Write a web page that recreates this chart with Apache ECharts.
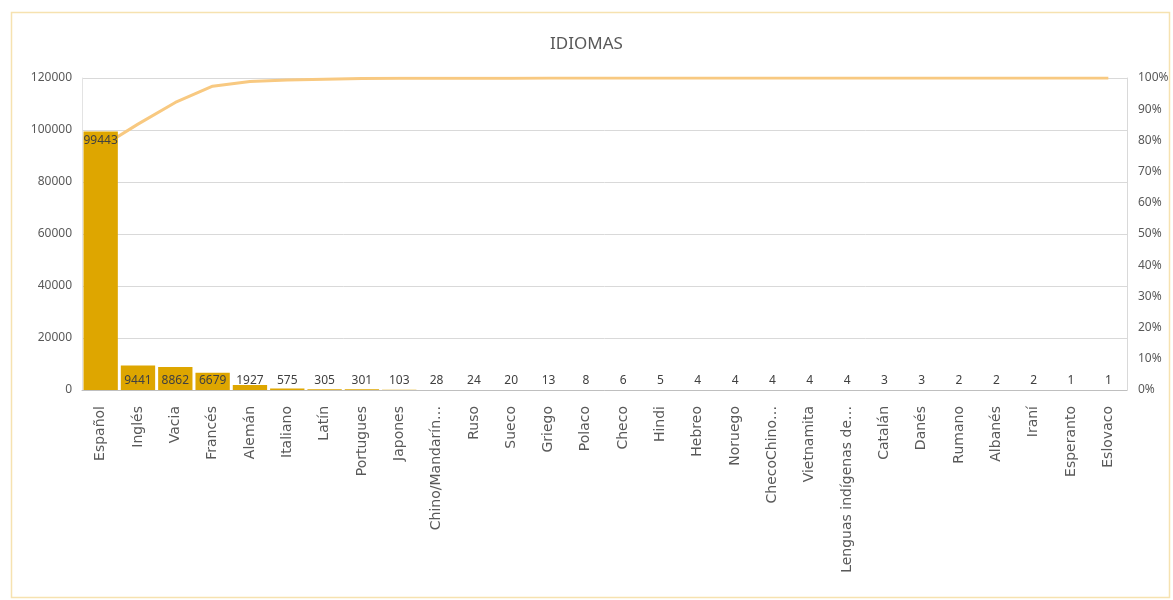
<!DOCTYPE html>
<html>
<head>
<meta charset="utf-8">
<title>IDIOMAS</title>
<script src="https://cdn.jsdelivr.net/npm/echarts@6/dist/echarts.min.js"></script>
<style>
	html, body { margin: 0; padding: 0; background: #ffffff; }
	#main { width: 1173px; height: 600px; }
</style>
</head>
<body>
<div id="main"></div>
<script>
	// idiomas
	var idiomas = ['Español', 'Inglés', 'Vacia', 'Francés', 'Alemán', 'Italiano', 'Latín', 'Portugues', 'Japones',
		'Chino/Mandarín…', 'Ruso', 'Sueco', 'Griego', 'Polaco', 'Checo', 'Hindi', 'Hebreo', 'Noruego',
		'ChecoChino…', 'Vietnamita', 'Lenguas indígenas de…', 'Catalán', 'Danés', 'Rumano', 'Albanés',
		'Iraní', 'Esperanto', 'Eslovaco'];
	var cantidad = [99443, 9441, 8862, 6679, 1927, 575, 305, 301, 103, 28, 24, 20, 13, 8, 6, 5, 4, 4,
		4, 4, 4, 3, 3, 2, 2, 2, 1, 1];
	// % acumulado (linea pareto)
	var acumulado = [77.83, 85.22, 92.15, 97.38, 98.89, 99.34, 99.58, 99.81, 99.89, 99.91, 99.93, 99.95,
		99.96, 99.96, 99.97, 99.97, 99.98, 99.98, 99.98, 99.99, 99.99, 99.99, 99.99, 100, 100, 100, 100, 100];
	var ticksIzq = [0, 20000, 40000, 60000, 80000, 100000, 120000];
	var ticksDer = [0, 10, 20, 30, 40, 50, 60, 70, 80, 90, 100];

	var fuente = "'Noto Sans', sans-serif";

	var barras = cantidad.map(function (v, i) {
		return {
			value: v,
			label: {
				position: i === 0 ? 'insideTop' : 'insideBottom',
				distance: i === 0 ? 3 : 3
			}
		};
	});

	var myChart = echarts.init(document.getElementById('main'));
	var option = {
		backgroundColor: '#ffffff',
		animation: false,
		graphic: [{
			type: 'rect',
			shape: { x: 11.5, y: 12.5, width: 1158, height: 585 },
			style: { fill: 'none', stroke: '#F6E2B0', lineWidth: 1.5 },
			silent: true
		}],
		title: {
			text: 'IDIOMAS',
			left: 'center',
			top: 31,
			textStyle: { fontFamily: fuente, fontSize: 17, fontWeight: 'normal', color: '#595959' }
		},
		grid: { left: 82, right: 46, top: 78, bottom: 210 },
		xAxis: {
			type: 'category',
			data: idiomas,
			axisLine: { lineStyle: { color: '#BFBFBF' } },
			axisTick: { show: false },
			axisLabel: {
				rotate: 90,
				interval: 0,
				margin: 16,
				fontFamily: 'DejaVu Sans',
				fontSize: 14,
				color: '#595959'
			}
		},
		yAxis: [{
			type: 'value',
			min: ticksIzq[0],
			max: ticksIzq[ticksIzq.length - 1],
			interval: 20000,
			axisLine: { show: true, lineStyle: { color: '#E3E3E3' } },
			axisTick: { show: false },
			splitLine: { lineStyle: { color: '#D9D9D9' } },
			axisLabel: {
				fontFamily: fuente, fontSize: 12, color: '#595959', margin: 10,
				formatter: function (v) { return String(v); }
			}
		}, {
			type: 'value',
			min: ticksDer[0],
			max: ticksDer[ticksDer.length - 1],
			interval: 10,
			axisLine: { show: true, lineStyle: { color: '#D9D9D9' } },
			axisTick: { show: false },
			splitLine: { show: false },
			axisLabel: { fontFamily: fuente, fontSize: 12, color: '#595959', margin: 11, formatter: '{value}%' }
		}],
		series: [{
			name: 'Cantidad',
			type: 'bar',
			data: barras,
			z: 3,
			barCategoryGap: '8%',
			itemStyle: { color: '#DEA600' },
			label: {
				show: true,
				fontFamily: fuente,
				fontSize: 12,
				color: '#404040'
			}
		}, {
			name: 'Acumulado',
			type: 'line',
			yAxisIndex: 1,
			data: acumulado,
			z: 2,
			symbol: 'none',
			lineStyle: { color: '#F8C981', width: 3 }
		}]
	};
	myChart.setOption(option);
</script>
</body>
</html>
